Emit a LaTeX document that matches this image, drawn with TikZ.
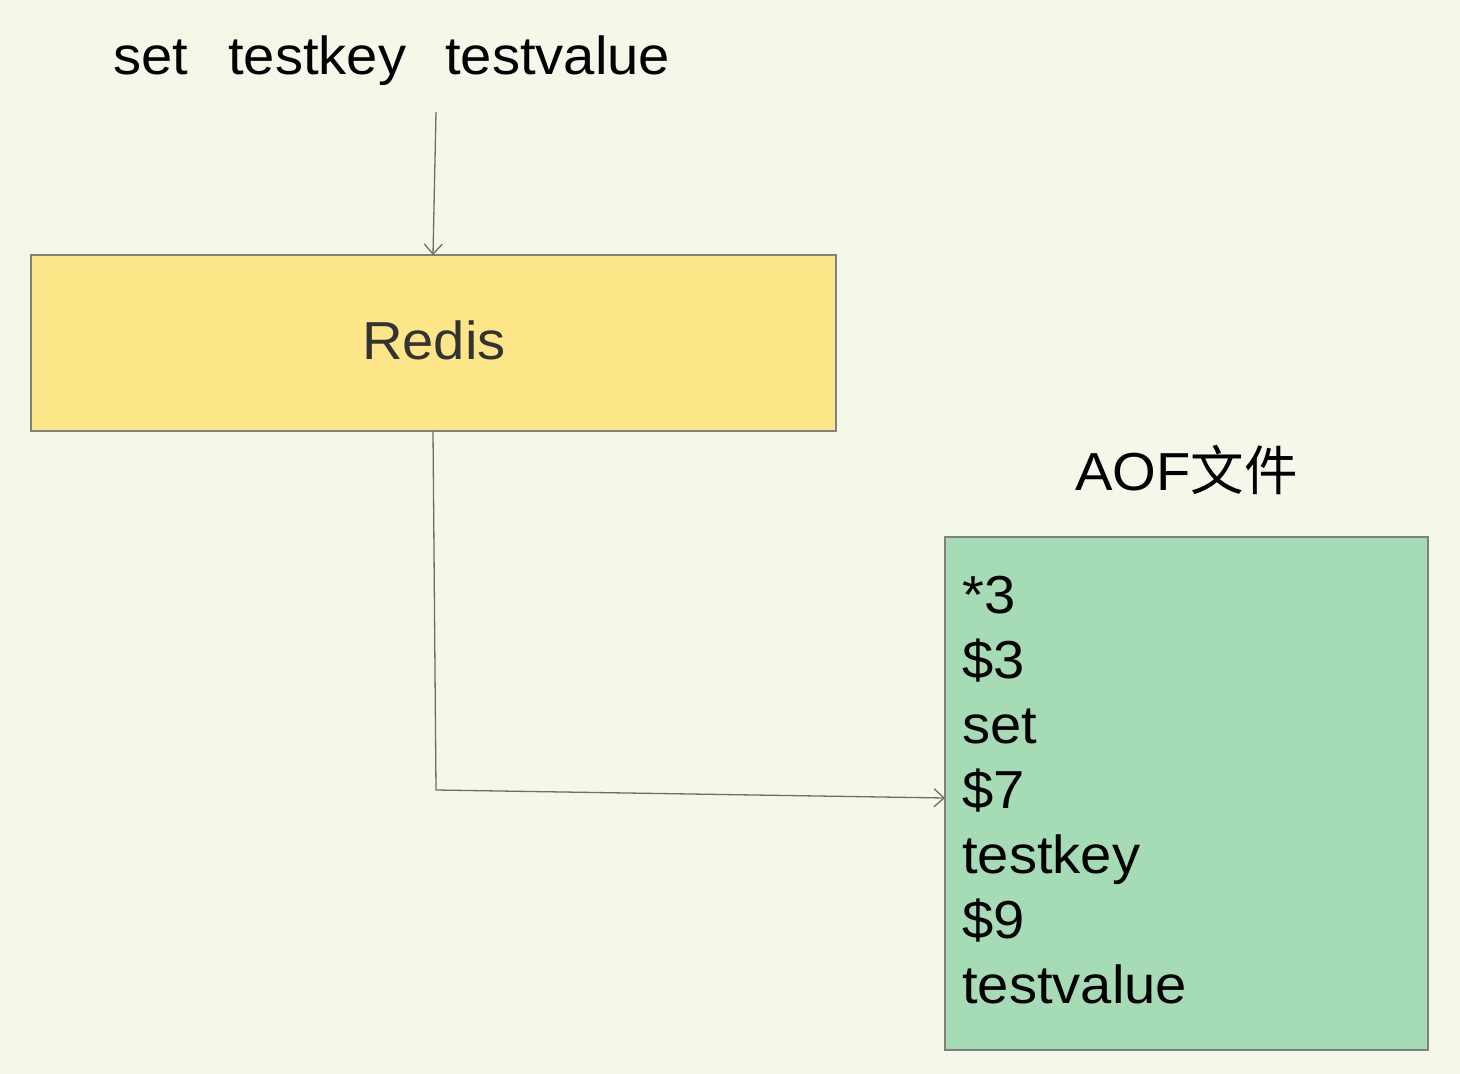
\documentclass[tikz,border=0pt]{standalone}
\usepackage{fontspec}
\setmainfont[FakeStretch=1.05]{Liberation Sans}
\newfontfamily\cjk{Noto Sans CJK SC}
\usetikzlibrary{arrows.meta}
\definecolor{bgc}{RGB}{244,248,232}
\definecolor{yel}{RGB}{253,230,135}
\definecolor{grn}{RGB}{165,220,181}
\definecolor{bord}{RGB}{128,128,128}
\definecolor{txtg}{RGB}{51,51,51}
\tikzset{
  txt/.style={inner sep=0pt, font=\fontsize{53.5}{64}\selectfont, text=black},
  boxy/.style={draw=bord, line width=1.6pt, inner sep=0pt},
  conn/.style={draw=bord!85!black, line width=1.3pt, -{Straight Barb[length=10pt,width=18pt,line width=1.3pt]}},
}
\begin{document}
\begin{tikzpicture}[x=1pt,y=-1pt]
\fill[bgc] (0,0) rectangle (1460,1074);
\useasboundingbox (0,0) rectangle (1460,1074);
% top command
\node[txt, anchor=base west] (cset) at (113,74) {set};
\node[txt, anchor=base west] (ckey) at (228,74) {testkey};
\node[txt, anchor=base west] (cval) at (445,74) {testvalue};
% Redis box
\node[boxy, fill=yel, minimum width=805pt, minimum height=176pt] (redis) at (433.5,343) {};
\node[txt, text=txtg, anchor=base] (redislbl) at (434,359) {Redis};
% AOF box
\node[boxy, fill=grn, minimum width=483pt, minimum height=513pt] (aof) at (1186.5,793.5) {};
\node[txt, anchor=base west] (aoftitle) at (1075,490) {AOF{\cjk 文件}};
\node[txt, anchor=base west] (l1) at (962,613) {*3};
\node[txt, anchor=base west] (l2) at (962,678) {\$3};
\node[txt, anchor=base west] (l3) at (962,743) {set};
\node[txt, anchor=base west] (l4) at (962,808) {\$7};
\node[txt, anchor=base west] (l5) at (962,873) {testkey};
\node[txt, anchor=base west] (l6) at (962,938) {\$9};
\node[txt, anchor=base west] (l7) at (962,1003) {testvalue};
% connectors
\coordinate (cmdfoot) at (436,112);
\coordinate (redistop) at (433,255);
\coordinate (redisbot) at (433,431);
\coordinate (bend) at (436,790);
\coordinate (aofin) at (945,798);
\draw[conn] (cmdfoot) -- (redistop);
\draw[conn] (redisbot) -- (bend) -- (aofin);
\end{tikzpicture}
\end{document}
